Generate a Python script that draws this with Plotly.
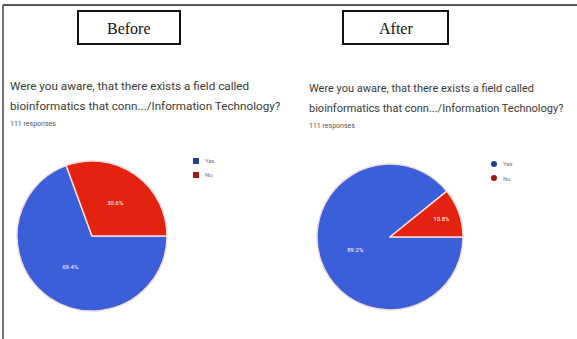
import plotly.graph_objects as go

W, H = 577, 339

labels = ["Yes", "No"]
before_values = [69.4, 30.6]
after_values = [89.2, 10.8]
panel_titles = ["Before", "After"]
question_lines = [
    "Were you aware, that there exists a field called",
    "bioinformatics that conn.../Information Technology?",
]
responses_text = "111 responses"

BLUE = "#3b5fd9"
RED = "#e3230f"


def px_x(x):
    return x / W


def px_y(y):
    return 1 - y / H


fig = go.Figure()

pies = [
    (before_values, (17, 167), (161, 311)),
    (after_values, (317, 463), (164, 310)),
]
for vals, (x0, x1), (y0, y1) in pies:
    fig.add_trace(go.Pie(
        labels=labels,
        values=vals,
        sort=False,
        direction="clockwise",
        rotation=90,
        marker=dict(colors=[BLUE, RED], line=dict(color="#f4dada", width=1.5)),
        textinfo="percent",
        texttemplate="%{percent:.1%}",
        textposition="inside",
        insidetextfont=dict(color="white", size=6, family="Roboto"),
        insidetextorientation="horizontal",
        showlegend=False,
        hoverinfo="label+percent",
        domain=dict(x=[px_x(x0), px_x(x1)], y=[px_y(y1), px_y(y0)]),
    ))

shapes = []
annotations = []

# outer frame: top and left edges
shapes.append(dict(type="line", xref="paper", yref="paper",
                   x0=px_x(3), x1=1, y0=px_y(5), y1=px_y(5),
                   line=dict(color="#222", width=1.5)))
shapes.append(dict(type="line", xref="paper", yref="paper",
                   x0=px_x(3), x1=px_x(3), y0=px_y(5), y1=0,
                   line=dict(color="#444", width=1.5)))

# title boxes
boxes = [(78, 180), (343, 448)]
for title, (bx0, bx1) in zip(panel_titles, boxes):
    shapes.append(dict(type="rect", xref="paper", yref="paper",
                       x0=px_x(bx0), x1=px_x(bx1), y0=px_y(44), y1=px_y(11),
                       line=dict(color="#111", width=2), fillcolor="white"))
    annotations.append(dict(x=px_x((bx0 + bx1) / 2), y=px_y(28), xref="paper", yref="paper",
                            text=title, showarrow=False, xanchor="center", yanchor="middle",
                            font=dict(family="Liberation Serif", size=16, color="#111")))

# question text and response counts
for qx, qy, fs in [(8, 0, 11.7), (307, 2, 11.0)]:
    for i, line in enumerate(question_lines):
        annotations.append(dict(x=px_x(qx), y=px_y(86 + qy + i * 20), xref="paper", yref="paper",
                                text=line, showarrow=False, xanchor="left", yanchor="middle",
                                font=dict(family="Roboto", size=fs, color="#3a3a3a")))
    annotations.append(dict(x=px_x(qx), y=px_y(124 + qy), xref="paper", yref="paper",
                            text=responses_text, showarrow=False, xanchor="left", yanchor="middle",
                            font=dict(family="Roboto", size=7, color="#555")))

# legends
legends = [((196, 161), "square"), ((494, 164), "circle")]
for (lx, ly), kind in legends:
    for j, (lab, col) in enumerate(zip(labels, [BLUE, RED])):
        cy = ly + j * 14
        shapes.append(dict(type="rect" if kind == "square" else "circle",
                           xref="paper", yref="paper",
                           x0=px_x(lx - 3), x1=px_x(lx + 3), y0=px_y(cy + 3), y1=px_y(cy - 3),
                           line=dict(width=0), fillcolor="#1f3f8f" if j == 0 else "#a0180d"))
        annotations.append(dict(x=px_x(lx + 7), y=px_y(cy), xref="paper", yref="paper",
                                text=lab, showarrow=False, xanchor="left", yanchor="middle",
                                font=dict(family="Roboto", size=6, color="#777")))

fig.update_layout(
    width=W, height=H,
    margin=dict(l=0, r=0, t=0, b=0),
    paper_bgcolor="white",
    plot_bgcolor="white",
    shapes=shapes,
    annotations=annotations,
)

fig.write_html("out.html")
